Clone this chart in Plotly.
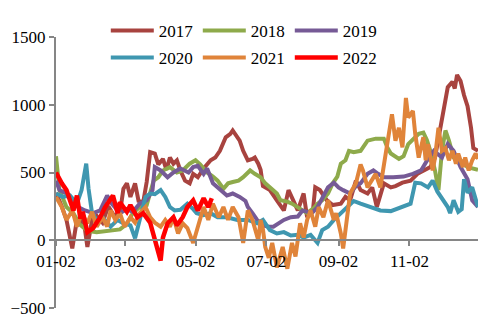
import pandas as pd
import plotly.graph_objects as go

# x values: days after Jan 2 (common calendar year); y values per year
d2017 = [0,5,9,14,18,21,23,27,31,35,40,45,50,55,58,61,64,68,71,75,78,81,85,88,92,95,98,101,104,107,111,115,118,122,127,133,137,141,146,150,152,156,158,161,165,169,171,174,176,178,184,190,196,200,204,208,213,216,221,223,227,233,238,245,249,253,258,262,268,272,276,282,288,292,298,305,311,316,322,326,331,337,341,343,345,348,351,354,357,359,363]
v2017 = [350,250,150,-60,150,130,200,-50,150,180,130,250,180,200,380,420,320,420,290,280,430,650,640,560,600,520,610,565,590,515,440,420,490,465,530,590,610,660,760,785,810,760,735,660,590,600,610,565,520,400,370,295,220,370,295,220,345,170,220,390,370,295,260,270,320,295,440,370,345,390,245,420,390,400,425,440,490,515,540,610,830,1130,1170,1120,1220,1175,1070,990,830,680,660]

d2018 = [0,3,9,15,20,27,35,45,55,61,66,72,78,84,88,92,98,104,109,115,120,124,130,135,139,144,148,152,157,161,167,171,176,180,186,190,193,199,203,208,213,216,222,225,229,234,238,242,245,249,252,256,262,268,275,282,285,288,295,299,303,309,312,316,319,322,326,329,332,335,338,342,348,354,359,363]
v2018 = [620,370,245,200,120,70,60,70,80,120,200,245,260,440,465,515,540,500,515,565,590,560,500,470,440,380,420,430,440,465,515,490,465,420,380,345,295,285,270,245,220,200,240,270,295,345,420,470,565,590,660,650,660,735,750,750,685,640,600,620,710,760,785,795,740,660,515,370,660,810,735,610,590,540,530,520]

d2019 = [0,3,9,15,19,25,32,38,44,48,55,61,66,72,78,83,85,90,96,101,107,114,118,122,127,130,135,141,147,152,158,163,165,169,173,178,183,187,191,196,202,208,212,216,220,225,230,234,239,243,247,253,258,262,268,273,277,282,290,299,307,314,320,325,332,337,342,348,354,358,363]
v2019 = [440,370,345,295,245,220,200,220,330,270,200,230,210,270,295,370,540,515,465,500,530,500,540,550,490,530,420,370,330,345,320,290,245,200,150,110,100,100,125,150,170,175,220,210,200,245,320,390,425,390,370,345,400,420,490,515,490,465,465,470,490,515,600,660,610,710,660,540,450,295,245]

d2020 = [0,6,12,18,22,26,28,31,35,40,47,53,58,64,68,72,77,81,85,90,94,98,102,107,113,118,121,127,133,139,147,156,165,173,178,184,190,196,202,208,213,219,225,229,234,239,245,251,256,262,270,279,288,296,305,309,314,320,324,328,333,337,339,342,346,349,351,354,358,363]
v2020 = [345,320,330,270,370,565,380,200,150,170,100,150,125,110,15,150,320,345,340,370,320,245,220,225,270,230,200,185,200,170,170,150,150,125,150,75,50,60,35,40,20,40,-20,75,100,150,200,250,290,270,245,220,215,240,270,425,420,390,440,360,300,245,200,295,210,230,450,350,390,245]

d2021 = [0,5,9,14,18,22,27,31,35,40,44,47,51,55,59,64,68,72,77,81,85,90,94,98,101,105,109,113,118,122,127,131,135,140,144,148,152,157,161,165,169,174,176,178,180,183,186,190,195,199,203,206,210,213,216,219,223,226,230,234,239,241,245,247,251,253,258,262,264,268,270,275,279,283,286,289,292,295,298,301,303,307,309,312,316,318,320,324,326,329,332,335,338,341,344,346,350,352,355,358,361,363]
v2021 = [320,245,150,220,100,200,125,210,100,170,100,220,150,200,100,170,130,200,245,170,130,100,150,100,170,50,125,90,-20,100,245,150,270,170,245,150,245,170,-20,220,150,0,150,80,-50,-130,-20,-200,-50,-210,-20,-120,125,20,150,220,100,245,170,295,150,200,50,-60,220,345,420,560,515,390,420,490,390,590,760,930,735,830,685,1050,905,955,785,610,760,590,710,515,610,830,660,680,590,660,565,640,540,610,515,590,640,600]

d2022 = [0,3,5,9,15,18,21,23,27,32,38,42,49,53,55,61,64,70,75,81,85,90,92,96,101,104,109,113,118,122,127,131,134]
v2022 = [500,450,420,370,220,330,160,210,60,90,170,240,330,200,280,210,260,170,200,130,0,-150,20,125,170,110,170,245,295,220,310,245,310]

years = ["2017", "2018", "2019", "2020", "2021", "2022"]
days = [d2017, d2018, d2019, d2020, d2021, d2022]
vals = [v2017, v2018, v2019, v2020, v2021, v2022]
colors = ["#A8433F", "#8EAA4B", "#765A96", "#3F97B0", "#E0843A", "#FF0000"]

tick_labels = ["01-02", "03-02", "05-02", "07-02", "09-02", "11-02"]
y_ticks = [-500, 0, 500, 1000, 1500]

base = pd.Timestamp("2022-01-02")
FONT = "Liberation Serif"

fig = go.Figure()
for i, (name, d, v, c) in enumerate(zip(years, days, vals, colors)):
    x = [base + pd.Timedelta(days=int(k)) for k in d]
    fig.add_trace(go.Scatter(x=x, y=v, name=name, mode="lines",
                             legend="legend" if i < 3 else "legend2",
                             line=dict(color=c, width=4 if name != "2022" else 4.5)))

tickvals = [pd.Timestamp("2022-" + t) for t in tick_labels]

leg_common = dict(orientation="h", xanchor="left", yanchor="middle",
                  bgcolor="rgba(0,0,0,0)", entrywidth=34, itemwidth=43,
                  tracegroupgap=0,
                  font=dict(family=FONT, size=17, color="black"))

fig.update_layout(
    width=482, height=324,
    margin=dict(l=56, r=4, t=37, b=16),
    paper_bgcolor="white", plot_bgcolor="white",
    font=dict(family=FONT, size=17, color="black"),
    showlegend=True,
    legend=dict(x=0.118, y=1.022, **leg_common),
    legend2=dict(x=0.118, y=0.923, **leg_common),
    xaxis=dict(range=[base, base + pd.Timedelta(days=363)],
               tickvals=tickvals, ticktext=tick_labels,
               showgrid=False, zeroline=False, showline=True,
               linecolor="#868686", linewidth=2, ticks="outside",
               tickcolor="#868686", ticklen=5, tickwidth=2,
               anchor="free", position=0.25),
    yaxis=dict(range=[-500, 1500], tickvals=y_ticks,
               showgrid=False, zeroline=False, showline=True,
               linecolor="#868686", linewidth=2, ticks="outside",
               tickcolor="#868686", ticklen=5, tickwidth=2),
)

fig.write_html("out.html")
